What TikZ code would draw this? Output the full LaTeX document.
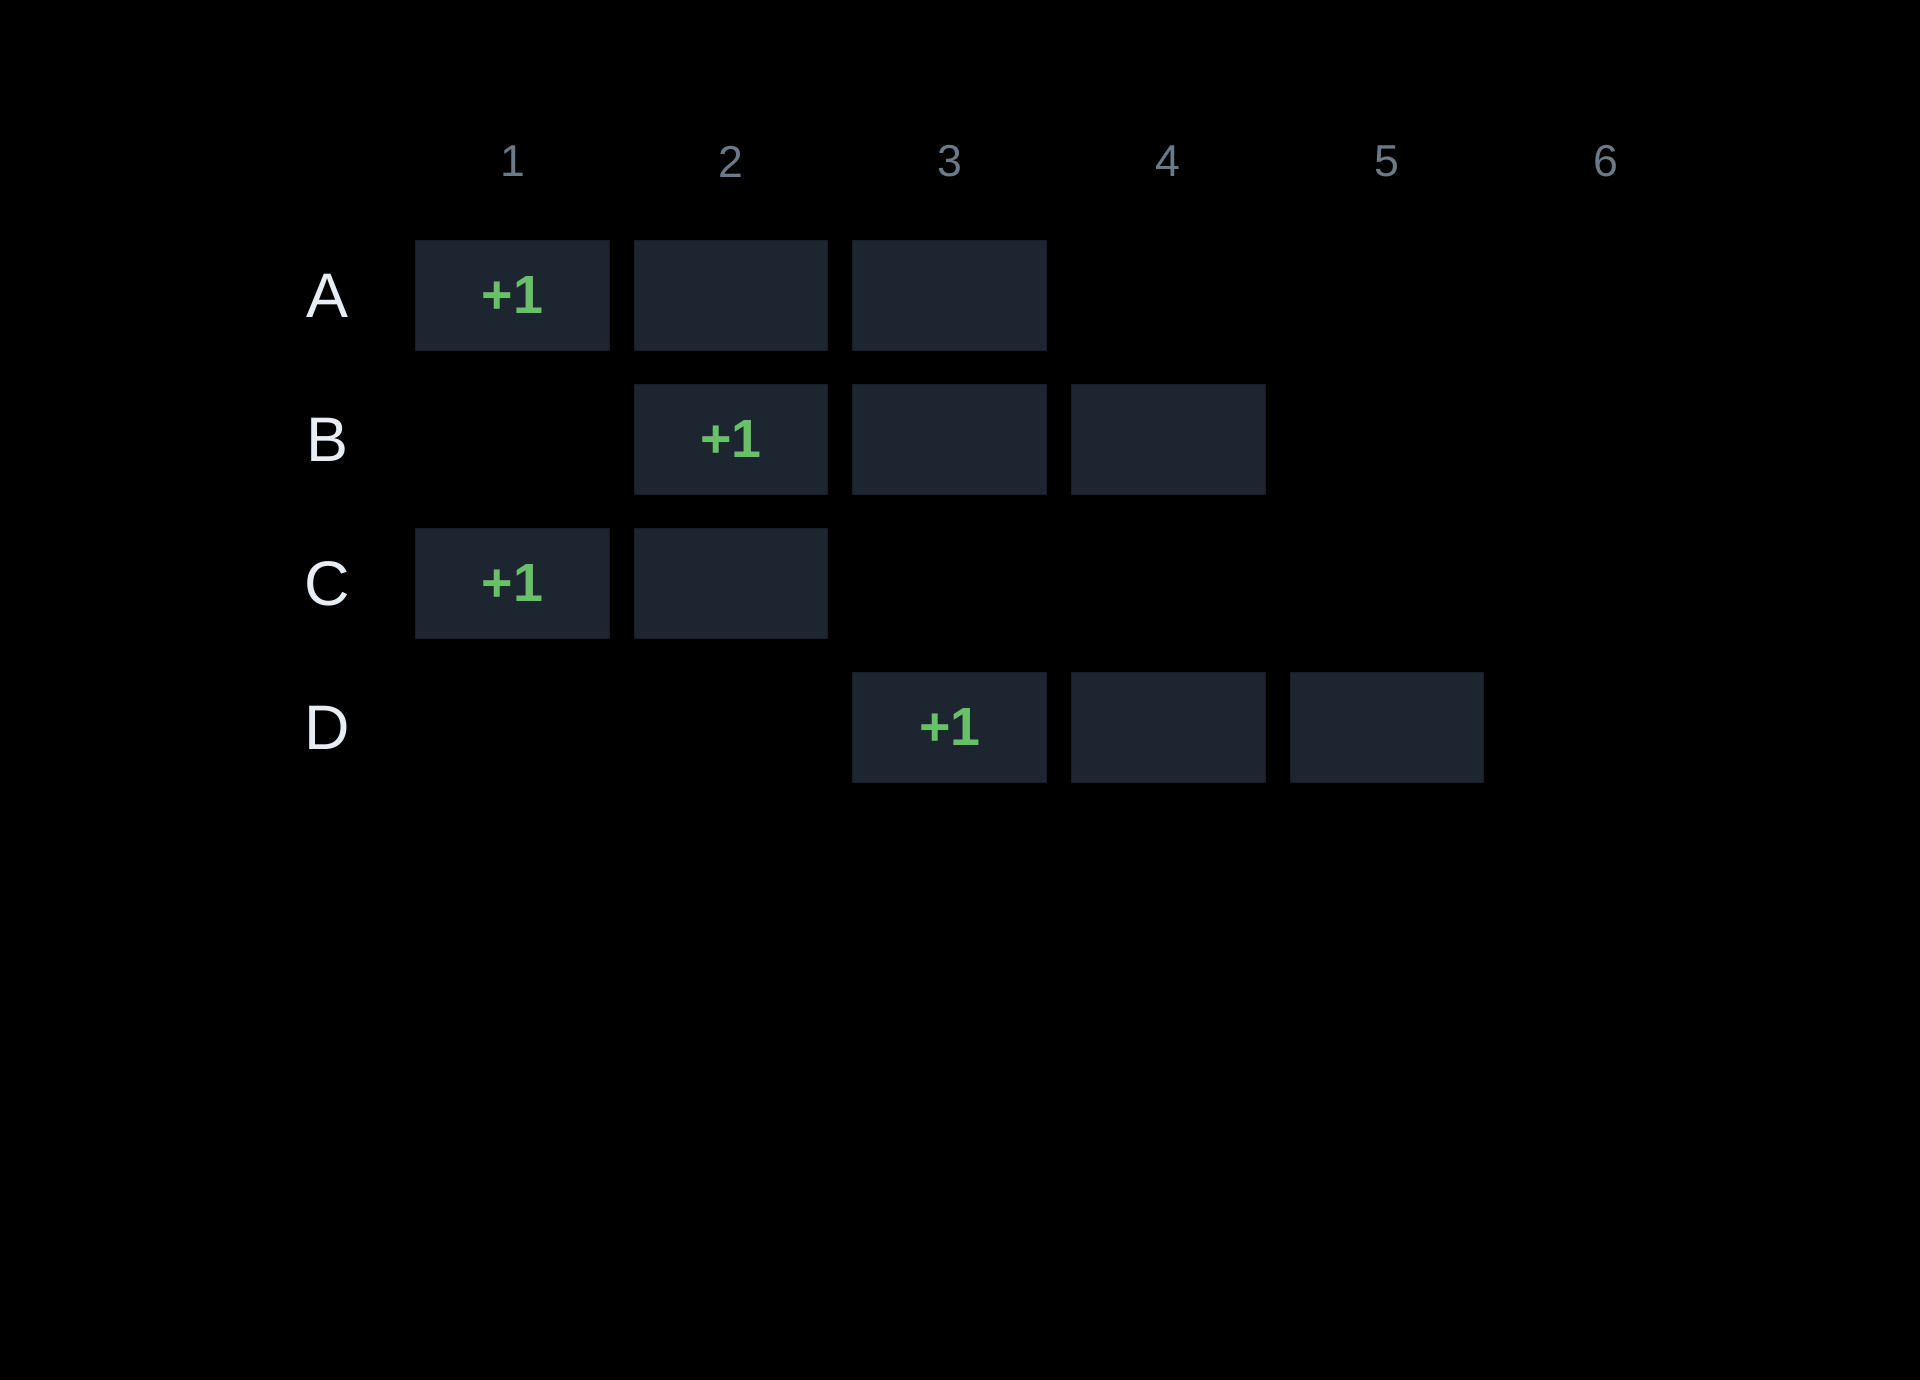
\documentclass[tikz,border=0pt]{standalone}
\usepackage{fontspec}
\setmainfont{Liberation Sans}
\definecolor{cellbg}{HTML}{1C2530}
\definecolor{plusgreen}{HTML}{6ABF69}
\definecolor{colgray}{HTML}{6B7A89}
\definecolor{rowwhite}{HTML}{E6EDF3}
\begin{document}
\begin{tikzpicture}[x=0.01cm, y=-0.01cm, line join=round,
	cell/.style={fill=cellbg, draw=cellbg!80!black, line width=.3pt, minimum width=1.935cm, minimum height=1.095cm, inner sep=0pt, text=plusgreen, font=\fontsize{15.3}{18}\selectfont\bfseries},
	collab/.style={text=colgray, font=\fontsize{12.7}{15}\selectfont},
	rowlab/.style={text=rowwhite, font=\fontsize{17.9}{21}\selectfont}]
	\def\dx{218.6} \def\dy{144}
	\fill[black] (0,0) rectangle (1920,1380);
	\useasboundingbox (0,0) rectangle (1920,1380);
	% column numbers and row letters
	\foreach \c in {1,...,6} \node[collab] (col\c) at ({512.5+(\c-1)*\dx},161.5) {\c};
	\foreach \r/\y in {A/0,B/1,C/2,D/3} \node[rowlab] (row\r) at (327,{295.5+\y*\dy}) {\r};
	% occupied cells
	\foreach \r/\y/\c/\t in {A/0/1/+1, A/0/2/{}, A/0/3/{}, B/1/2/+1, B/1/3/{}, B/1/4/{},
		C/2/1/+1, C/2/2/{}, D/3/3/+1, D/3/4/{}, D/3/5/{}}
		\node[cell] (\r\c) at ({512.5+(\c-1)*\dx},{295.5+\y*\dy}) {\t};
\end{tikzpicture}
\end{document}
